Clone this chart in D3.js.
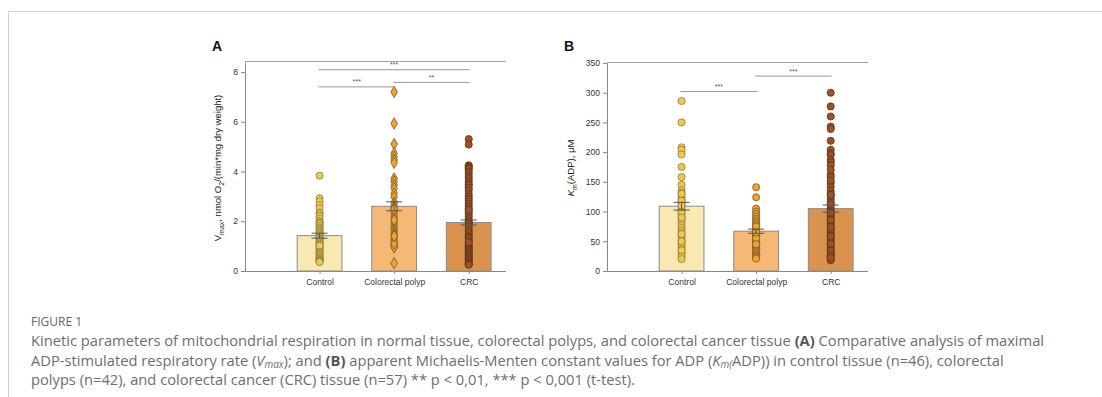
<!DOCTYPE html>
<html>
<head>
<meta charset="utf-8">
<script src="https://cdn.jsdelivr.net/npm/d3@7"></script>
<style>
	body { margin: 0; background: #fff; }
	svg { display: block; font-family: "Liberation Sans", Arial, sans-serif; }
	.tick text { fill: #333; font-size: 8.5px; }
	.domain, .tick line { stroke: #888; }
	.sig-line { stroke: #999; stroke-width: 1; }
	.sig-text { fill: #555; font-size: 7px; }
	.caption { font-family: "Open Sans", sans-serif; fill: #6e6e6e; font-size: 14.7px; }
</style>
</head>
<body>
<svg id="chart" width="1102" height="397"></svg>
<script>
const groups = ["Control", "Colorectal polyp", "CRC"];

// bar heights (means) and SEM
const vmaxMeans = [1.42, 2.6, 1.95];
const vmaxSem = [0.1, 0.18, 0.1];
const kmMeans = [109, 67, 105];
const kmSem = [6.5, 3.5, 6];

// individual points
const vmaxControl = [3.83, 2.92, 2.8, 2.65, 2.52, 2.35, 2.28, 2.2, 2.1, 2.0, 1.95, 1.9, 1.82, 1.75, 1.7, 1.65, 1.6, 1.55, 1.5, 1.45, 1.4, 1.35, 1.3, 1.25, 1.2, 1.15, 1.1, 1.05, 1.0, 0.95, 0.9, 0.85, 0.8, 0.75, 0.7, 0.65, 0.6, 0.55, 0.5, 0.48, 0.45, 0.42, 0.4, 0.38, 0.36, 1.02];
const vmaxPolyp = [7.2, 5.93, 5.1, 4.73, 4.59, 4.46, 4.35, 3.72, 3.6, 3.45, 3.32, 3.12, 2.98, 2.75, 2.65, 2.55, 2.48, 2.4, 2.3, 2.2, 2.1, 2.0, 1.92, 1.85, 1.75, 1.68, 1.6, 1.52, 1.45, 1.38, 1.3, 1.2, 1.12, 1.05, 1.0, 0.97, 0.95, 1.1, 1.4, 2.05, 2.5, 0.31];
const vmaxCrc = [5.3, 5.08, 4.25, 4.2, 4.15, 4.1, 4.0, 3.9, 3.8, 3.7, 3.6, 3.5, 3.45, 3.35, 3.25, 3.1, 3.0, 2.9, 2.8, 2.7, 2.6, 2.5, 2.4, 2.3, 2.2, 2.1, 2.0, 1.95, 1.9, 1.8, 1.7, 1.6, 1.5, 1.4, 1.35, 1.3, 1.2, 1.1, 1.0, 0.95, 0.9, 0.85, 0.8, 0.75, 0.7, 0.65, 0.6, 0.55, 0.5, 0.45, 0.4, 0.35, 0.3, 0.27, 0.25, 1.15, 2.45];

const kmControl = [286, 250, 208, 204, 196, 175, 158, 145, 136, 132, 128, 124, 120, 116, 112, 108, 104, 100, 96, 92, 88, 84, 80, 76, 72, 68, 64, 60, 56, 52, 48, 44, 40, 36, 32, 28, 24, 20, 130, 118, 110, 98, 90, 62, 50, 35];
const kmPolyp = [141, 124, 105, 100, 96, 92, 88, 85, 82, 79, 76, 73, 70, 68, 66, 64, 62, 60, 58, 56, 54, 52, 50, 48, 46, 44, 42, 40, 38, 36, 34, 32, 30, 28, 26, 24, 22, 21, 55, 65, 75, 45];
const kmCrc = [300, 277, 260, 243, 239, 219, 204, 198, 195, 187, 183, 178, 162, 158, 148, 142, 135, 130, 125, 120, 115, 110, 105, 100, 96, 92, 88, 84, 80, 76, 72, 68, 64, 60, 56, 52, 48, 44, 40, 36, 32, 28, 24, 20, 18, 170, 152, 128, 112, 98, 86, 74, 58, 46, 34, 26, 22];

const vmaxTicks = [0, 2, 4, 6, 8];
const kmTicks = [0, 50, 100, 150, 200, 250, 300, 350];

// significance brackets: [from, to, value, label]
const vmaxSig = [[0, 2, 8.09, "***"], [0, 1, 7.4, "***"], [1, 2, 7.58, "**"]];
const kmSig = [[0, 1, 302, "***"], [1, 2, 328, "***"]];

const barFill = ["#f8e9b2", "#f5b877", "#d9934f"];
const dotFill = ["#f2c84b", "#f0a12e", "#9b5226"];
const dotStroke = ["#8d7a3e", "#7a5a2a", "#5b3318"];

const svg = d3.select("#chart");

// page frame
svg.append("path")
	.attr("d", "M8.5,397V11.5H1102")
	.attr("fill", "none")
	.attr("stroke", "#cfcfcf");

function drawPanel(opts) {
	const { left, right, top, bottom, max, ticks, means, sem, points, sig, letter, shapes } = opts;

	const g = svg.append("g");

	const x = d3.scalePoint()
		.domain(["", ...groups])
		.range([left, left + 3 * ((right - left) / 3.5)]);
	const step = x.step();
	const barW = step * 0.6;

	const y = d3.scaleLinear()
		.domain([0, max])
		.range([bottom, top]);

	// bars
	g.selectAll(".bar")
		.data(means)
		.join("rect")
		.attr("x", (d, i) => x(groups[i]) - barW / 2)
		.attr("y", d => y(d))
		.attr("width", barW)
		.attr("height", d => y(0) - y(d))
		.attr("fill", (d, i) => barFill[i])
		.attr("stroke", "#8a8a8a")
		.attr("stroke-width", 1);

	// points
	points.forEach((arr, i) => {
		const sym = d3.symbol().type(shapes[i]).size(shapes[i] === d3.symbolDiamond ? 38 : 40);
		g.append("g").selectAll("path")
			.data(arr)
			.join("path")
			.attr("transform", d => `translate(${x(groups[i])},${y(d)})`)
			.attr("d", sym)
			.attr("fill", dotFill[i])
			.attr("stroke", dotStroke[i])
			.attr("stroke-width", 0.8);
	});

	// error bars
	means.forEach((m, i) => {
		const cx = x(groups[i]);
		const eg = g.append("g").attr("stroke", "#555").attr("stroke-width", 1);
		eg.append("line").attr("x1", cx).attr("x2", cx).attr("y1", y(m - sem[i])).attr("y2", y(m + sem[i]));
		[m - sem[i], m + sem[i]].forEach(v => {
			eg.append("line").attr("x1", cx - 8).attr("x2", cx + 8).attr("y1", y(v)).attr("y2", y(v));
		});
	});

	// axes
	g.append("g")
		.attr("transform", `translate(${left},0)`)
		.call(d3.axisLeft(y).tickValues(ticks).tickSize(4).tickSizeOuter(0));

	g.append("g")
		.attr("transform", `translate(0,${bottom})`)
		.call(d3.axisBottom(x).tickValues(groups).tickSize(3).tickSizeOuter(0))
		.call(ax => ax.select(".domain").attr("d", `M${left},0.5H${right}`))
		.call(ax => ax.selectAll(".tick text").attr("dy", "0.9em"));

	// top spine
	g.append("line")
		.attr("x1", left).attr("x2", right)
		.attr("y1", top - 0.5).attr("y2", top - 0.5)
		.attr("stroke", "#a0a0a0").attr("stroke-width", 1.2);

	// significance brackets
	sig.forEach(([a, b, v, lab]) => {
		const x1 = x(groups[a]) - 1;
		const x2 = x(groups[b]) + 1;
		g.append("line")
			.attr("class", "sig-line")
			.attr("x1", x1).attr("x2", x2)
			.attr("y1", y(v)).attr("y2", y(v));
		g.append("text")
			.attr("class", "sig-text")
			.attr("x", (x1 + x2) / 2)
			.attr("y", y(v) - 2.5)
			.attr("text-anchor", "middle")
			.text(lab);
	});

	// panel letter
	g.append("text")
		.attr("x", letter[1])
		.attr("y", 51)
		.attr("font-weight", "bold")
		.attr("font-size", 14)
		.attr("fill", "#111")
		.text(letter[0]);

	return { g, x, y };
}

drawPanel({
	left: 245, right: 506, top: 62, bottom: 271, max: 8.4,
	ticks: vmaxTicks, means: vmaxMeans, sem: vmaxSem,
	points: [vmaxControl, vmaxPolyp, vmaxCrc], sig: vmaxSig,
	letter: ["A", 212], shapes: [d3.symbolCircle, d3.symbolDiamond, d3.symbolCircle]
});

drawPanel({
	left: 607, right: 868, top: 63, bottom: 271, max: 350,
	ticks: kmTicks, means: kmMeans, sem: kmSem,
	points: [kmControl, kmPolyp, kmCrc], sig: kmSig,
	letter: ["B", 564], shapes: [d3.symbolCircle, d3.symbolCircle, d3.symbolCircle]
});

// y labels
function sub(t, s, size) {
	t.append("tspan").attr("dy", 2.5).attr("font-size", size).text(s);
	return t.append("tspan").attr("dy", -2.5);
}

const labA = svg.append("text")
	.attr("transform", "translate(221,168) rotate(-90)")
	.attr("text-anchor", "middle")
	.attr("font-size", 9.5)
	.attr("fill", "#222");
labA.append("tspan").text("V");
sub(labA, "max", 7).text(", nmol O");
sub(labA, "2", 7).text("/(min*mg dry weight)");

const labB = svg.append("text")
	.attr("transform", "translate(574,168) rotate(-90)")
	.attr("text-anchor", "middle")
	.attr("font-size", 9.5)
	.attr("fill", "#222");
labB.append("tspan").attr("font-style", "italic").text("K");
sub(labB, "m", 7).text("(ADP), μM");

// caption
svg.append("text")
	.attr("x", 31).attr("y", 326)
	.attr("font-family", "'Open Sans', sans-serif")
	.attr("font-size", 12)
	.attr("fill", "#666")
	.text("FIGURE 1");

const capLines = [
	[["Kinetic parameters of mitochondrial respiration in normal tissue, colorectal polyps, and colorectal cancer tissue ", ""], ["(A)", "b"], [" Comparative analysis of maximal", ""]],
	[["ADP-stimulated respiratory rate (", ""], ["V", "i"], ["max", "isub"], ["); and ", ""], ["(B)", "b"], [" apparent Michaelis-Menten constant values for ADP (", ""], ["K", "i"], ["m(", "isub"], ["ADP)) in control tissue (n=46), colorectal", ""]],
	[["polyps (n=42), and colorectal cancer (CRC) tissue (n=57) ** p < 0,01, *** p < 0,001 (t-test).", ""]]
];

capLines.forEach((parts, li) => {
	const t = svg.append("text")
		.attr("class", "caption")
		.attr("x", 31)
		.attr("y", 346 + li * 19.5);
	let shifted = false;
	parts.forEach(([s, st]) => {
		const sp = t.append("tspan").text(s);
		if (st === "b") sp.attr("font-weight", "bold").attr("fill", "#555");
		if (st.startsWith("i")) sp.attr("font-style", "italic");
		if (st === "isub") {
			sp.attr("dy", 2.5).attr("font-size", 10);
			shifted = true;
		} else if (shifted) {
			sp.attr("dy", -2.5);
			shifted = false;
		}
	});
});
</script>
</body>
</html>
